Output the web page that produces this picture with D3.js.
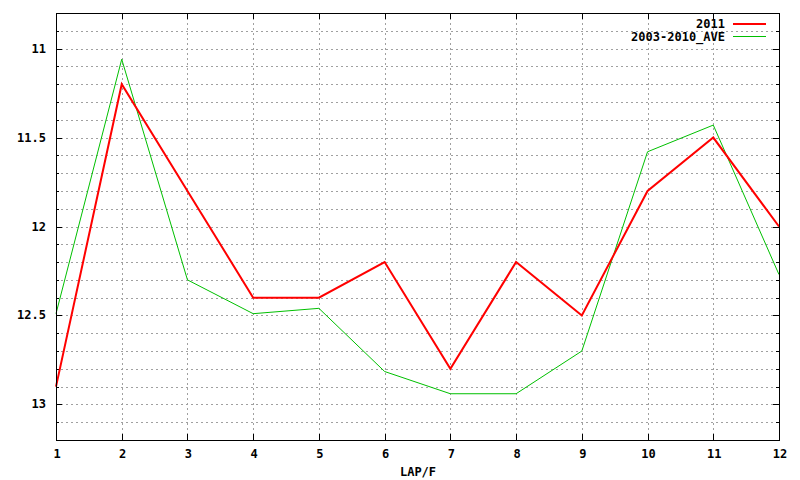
<!DOCTYPE html>
<html><head><meta charset="utf-8">
<script src="https://cdn.jsdelivr.net/npm/d3@7"></script>
<style>body{margin:0;background:#fff}svg{display:block}text{font-family:"DejaVu Sans Mono",monospace;font-weight:bold;font-size:12px;fill:#000}</style>
</head><body><svg id="c" width="800" height="480"></svg>
<script>
const laps = [1,2,3,4,5,6,7,8,9,10,11,12];
const series2011 = [12.9,11.2,11.8,12.4,12.4,12.2,12.8,12.2,12.5,11.8,11.5,12.0];
const seriesAve = [12.49,11.06,12.3,12.49,12.46,12.815,12.94,12.94,12.7,11.58,11.43,12.27];
const yMajorTicks = [11,11.5,12,12.5,13];
const yMinorTicks = d3.range(108,133).map(v=>v/10);
const seriesNames = ["2011","2003-2010_AVE"];

const svg = d3.select("#c");
const L=56,R=779,T=13,B=440;
const x = d3.scaleLinear().domain([1,12]).range([L,R]);
const y = d3.scaleLinear().domain([10.8,13.2]).range([T,B]);

// grid
const g = svg.append("g").attr("stroke","#a0a0a0").attr("stroke-dasharray","2,3").attr("stroke-width",1);
yMinorTicks.filter(v=>v>10.8+1e-9&&v<13.2-1e-9).forEach(v=>{
  g.append("line").attr("x1",L).attr("x2",R).attr("y1",Math.round(y(v))+0.5).attr("y2",Math.round(y(v))+0.5);
});
laps.slice(1,-1).forEach(v=>{
  g.append("line").attr("y1",T).attr("y2",B).attr("x1",Math.round(x(v))+0.5).attr("x2",Math.round(x(v))+0.5);
});

// ticks
const tk = svg.append("g").attr("stroke","#000").attr("stroke-width",1);
yMinorTicks.forEach(v=>{
  const yy=Math.round(y(v))+0.5;
  const major = yMajorTicks.some(m=>Math.abs(m-v)<1e-9);
  const len = major?6:3;
  tk.append("line").attr("x1",L).attr("x2",L+len).attr("y1",yy).attr("y2",yy);
  tk.append("line").attr("x1",R).attr("x2",R-len).attr("y1",yy).attr("y2",yy);
});
laps.forEach(v=>{
  const xx=Math.round(x(v))+0.5;
  tk.append("line").attr("x1",xx).attr("x2",xx).attr("y1",B).attr("y2",B-6);
  tk.append("line").attr("x1",xx).attr("x2",xx).attr("y1",T).attr("y2",T+6);
});

// labels
yMajorTicks.forEach(v=>{
  svg.append("text").attr("x",46).attr("y",y(v)+4).attr("text-anchor","end").text(d3.format("")(v));
});
laps.forEach(v=>{
  svg.append("text").attr("x",x(v)+1).attr("y",458).attr("text-anchor","middle").text(v);
});
svg.append("text").attr("x",418).attr("y",476).attr("text-anchor","middle").text("LAP/F");

// lines
const line = d3.line().x((d,i)=>x(laps[i])).y(d=>y(d));
svg.append("path").datum(seriesAve).attr("d",line).attr("fill","none").attr("stroke","#00c000").attr("stroke-width",1);
svg.append("path").datum(series2011).attr("d",line).attr("fill","none").attr("stroke","#ff0000").attr("stroke-width",2);

// border
svg.append("rect").attr("x",L+0.5).attr("y",T+0.5).attr("width",R-L).attr("height",B-T).attr("fill","none").attr("stroke","#000").attr("stroke-width",1);

// legend
svg.append("text").attr("x",725).attr("y",28).attr("text-anchor","end").text(seriesNames[0]);
svg.append("line").attr("x1",733).attr("x2",766).attr("y1",24).attr("y2",24).attr("stroke","#ff0000").attr("stroke-width",2);
svg.append("text").attr("x",725).attr("y",41).attr("text-anchor","end").text(seriesNames[1]);
svg.append("line").attr("x1",733).attr("x2",766).attr("y1",36.5).attr("y2",36.5).attr("stroke","#00c000").attr("stroke-width",1);
</script></body></html>
